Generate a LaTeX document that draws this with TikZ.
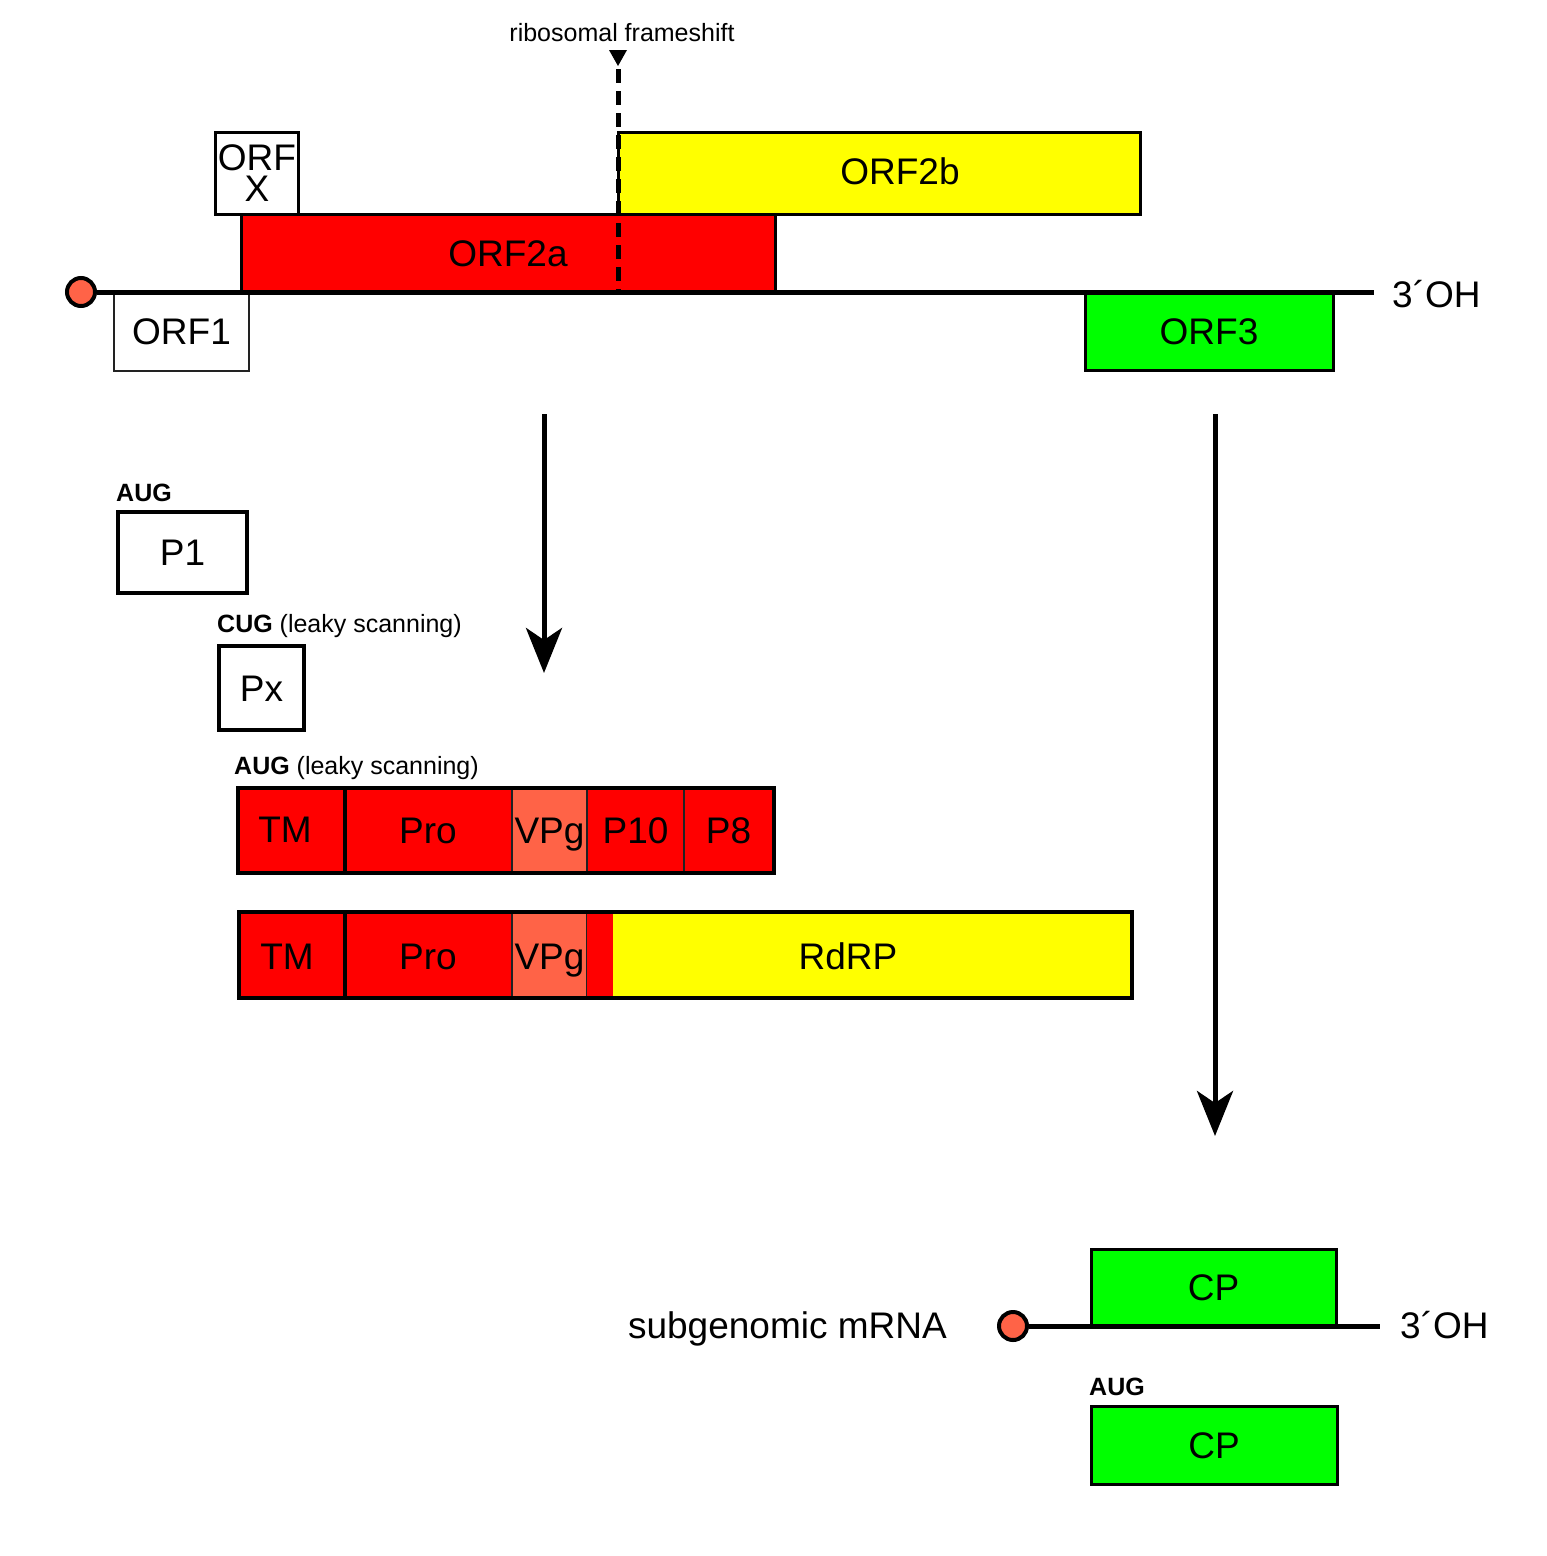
\documentclass[tikz,border=0pt]{standalone}
\usepackage{fontspec}
\setmainfont{Liberation Sans}
\usetikzlibrary{arrows.meta}
\definecolor{tom}{HTML}{FF6347}
\definecolor{rd}{HTML}{FF0000}
\definecolor{yl}{HTML}{FFFF00}
\definecolor{gr}{HTML}{00FF00}
\definecolor{edge}{HTML}{222222}
\begin{document}
\begin{tikzpicture}[x=1pt,y=-1pt,
  big/.style={font=\fontsize{37}{40}\selectfont, text height=26.5pt, text depth=0pt, inner sep=0pt},
  small/.style={font=\fontsize{25}{28}\selectfont, inner sep=0pt, anchor=base west},
  box/.style={draw=black, line width=3pt, big},
  seg/.style={draw=edge, line width=2pt, big},
  cap5/.style={circle, draw=black, line width=4pt, fill=tom, minimum size=28pt, inner sep=0pt},
  rna/.style={line width=5pt},
  arr/.style={line width=5pt, -{Stealth[length=45pt,width=36pt,inset=12pt]}},
]
\useasboundingbox (0,0) rectangle (1547,1556);

% ---------------- genome ----------------
\node[box, line width=2.5pt, draw=edge, minimum width=135pt, minimum height=79pt] (orf1) at (181.5,331.5) {ORF1};
\node[box, minimum width=83pt, minimum height=82pt] (orfx) at (256.5,173) {};
\node[font=\fontsize{37}{31}\selectfont, align=center, inner sep=0pt] (orfxt) at (257,173) {ORF\\X};
\node[box, fill=rd, minimum width=534pt, minimum height=78pt] (orf2a) at (508,253) {ORF2a};
\node[box, fill=yl, minimum width=522pt, minimum height=82pt] (orf2b) at (879,173) {};
\node[big] (orf2bt) at (900,171) {ORF2b};
\node[box, fill=gr, minimum width=248pt, minimum height=78pt] (orf3) at (1209,331) {ORF3};

\node[cap5] (cap) at (81,292) {};
\coordinate (gend) at (1374,292);
\draw[rna] (cap.east) -- (gend);
\node[big, anchor=west] (oh1) at (1392,294) {3´OH};

% frameshift
\node[font=\fontsize{25}{28}\selectfont, inner sep=0pt, anchor=base] (fs) at (622,41.5) {ribosomal frameshift};
\fill (609,50) -- (627,50) -- (618,66) -- cycle;
\coordinate (fstop) at (618,69);
\coordinate (fsbot) at (618,292);
\draw[line width=5pt, dash pattern=on 14pt off 8pt] (fstop) -- (fsbot);

% ---------------- arrows ----------------
\coordinate (a1s) at (544,414);
\coordinate (a1e) at (544,673);
\draw[arr] (a1s) -- (a1e);
\coordinate (a2s) at (1215,414);
\coordinate (a2e) at (1215,1136);
\draw[arr] (a2s) -- (a2e);

% ---------------- products ----------------
\node[small] (aug1) at (116,501.5) {\textbf{AUG}};
\node[box, line width=4pt, minimum width=129pt, minimum height=81pt] (p1) at (182.5,552.5) {P1};

\node[small] (cug) at (217,632) {\textbf{CUG} (leaky scanning)};
\node[box, line width=4pt, minimum width=85pt, minimum height=84pt] (px) at (261.5,688) {Px};

\node[small] (aug2) at (234,774) {\textbf{AUG} (leaky scanning)};

% row 1
\node[seg, fill=rd, minimum width=105pt, minimum height=83pt] (tm1) at (291.5,830.5) {};
\node[big] (tm1t) at (285,829) {TM};
\node[seg, fill=rd, minimum width=168pt, minimum height=83pt] (pro1) at (428,830.5) {Pro};
\node[seg, fill=tom, minimum width=75pt, minimum height=83pt] (vpg1) at (549.5,830.5) {VPg};
\node[seg, fill=rd, minimum width=97pt, minimum height=83pt] (p10) at (635.5,830.5) {P10};
\node[seg, fill=rd, minimum width=89pt, minimum height=83pt] (p8) at (728.5,830.5) {P8};
\draw[line width=4pt] (tm1.north west) rectangle (p8.south east);
\draw[line width=4pt] (tm1.north east) -- (tm1.south east);

% row 2
\node[seg, fill=rd, minimum width=104pt, minimum height=86pt] (tm2) at (292,956) {};
\node[big] (tm2t) at (287,956) {TM};
\node[seg, fill=rd, minimum width=168pt, minimum height=86pt] (pro2) at (428,956) {Pro};
\node[seg, fill=tom, minimum width=75pt, minimum height=86pt] (vpg2) at (549.5,956) {VPg};
\node[draw=none, fill=rd, inner sep=0pt, minimum width=26pt, minimum height=84pt] (lnk) at (600,956) {};
\node[draw=none, fill=yl, inner sep=0pt, minimum width=519pt, minimum height=84pt] (rdrp) at (872.5,956) {};
\node[big] (rdrpt) at (848,956) {RdRP};
\draw[line width=4pt] (tm2.north west) rectangle (rdrp.south east);
\draw[line width=4pt] (tm2.north east) -- (tm2.south east);

% ---------------- subgenomic ----------------
\node[box, fill=gr, minimum width=245pt, minimum height=77pt] (cp1) at (1213.5,1287.5) {CP};
\node[cap5] (cap2) at (1013,1326) {};
\coordinate (send) at (1380,1326);
\draw[rna] (cap2.east) -- (send);
\node[big, anchor=west] (oh2) at (1400,1325) {3´OH};
\node[big, anchor=east] (sg) at (947,1325) {subgenomic mRNA};

\node[small] (aug3) at (1089,1395) {\textbf{AUG}};
\node[box, fill=gr, minimum width=246pt, minimum height=78pt] (cp2) at (1214,1445) {CP};
\end{tikzpicture}
\end{document}
